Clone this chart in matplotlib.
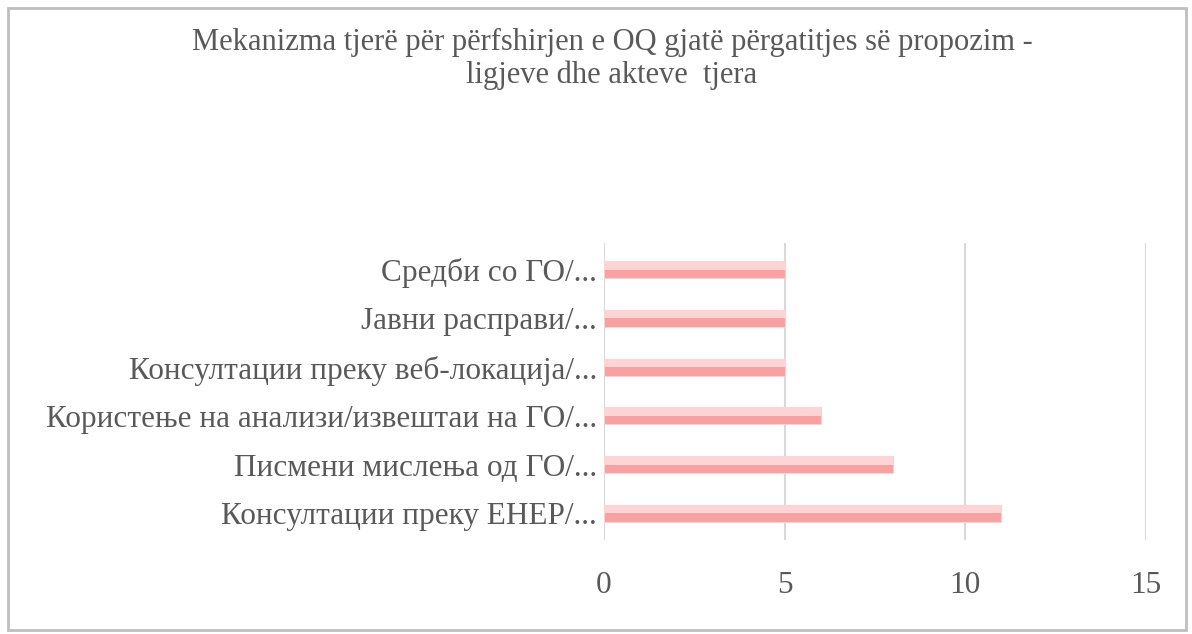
import matplotlib.pyplot as plt
from matplotlib.patches import Rectangle

categories = ['Консултации преку ЕНЕР/...',
              'Писмени мислења од ГО/...',
              'Користење на анализи/извештаи на ГО/...',
              'Консултации преку веб-локација/...',
              'Јавни расправи/...',
              'Средби со ГО/...']
values = [11, 8, 6, 5, 5, 5]
xticks = [0, 5, 10, 15]
title = 'Mekanizma tjerë për përfshirjen e OQ gjatë përgatitjes së propozim -\nligjeve dhe akteve  tjera'

plt.rcParams['font.family'] = ['Liberation Serif', 'DejaVu Serif']

fig = plt.figure(figsize=(11.92, 6.34), dpi=100)
ax = fig.add_axes([604 / 1192, 1 - 540 / 634, (1146 - 604) / 1192, (540 - 243) / 634])

y = list(range(len(categories)))
h = 0.35
ax.barh(y, values, height=h, color='#F7A1A3', edgecolor='#FBD0D0', linewidth=0.8, zorder=3)
ax.barh([i + h / 4 for i in y], values, height=h / 2, color='#FED5D6', linewidth=0, zorder=4)

ax.set_xlim(0, 15)
ax.set_ylim(-0.55, 5.55)
ax.set_xticks(xticks)
ax.set_xticklabels([str(t) for t in xticks])
ax.set_yticks(y)
ax.set_yticklabels(categories)
ax.grid(axis='x', color='#D9D9D9', linewidth=1.5, zorder=0)
for s in ax.spines.values():
    s.set_visible(False)
ax.tick_params(axis='both', length=0, colors='#595959', labelsize=22.5)
ax.tick_params(axis='x', pad=22)
ax.tick_params(axis='y', pad=5)

fig.text(612 / 1192, 1 - 59 / 634, title, ha='center', va='center', fontsize=22,
         color='#595959', linespacing=1.12)

fig.patches.append(Rectangle((8 / 1192, 4 / 634), 1178 / 1192, 622 / 634, transform=fig.transFigure,
                             fill=False, edgecolor='#BFBFBF', linewidth=2))

fig.savefig('out.png', dpi=100)
